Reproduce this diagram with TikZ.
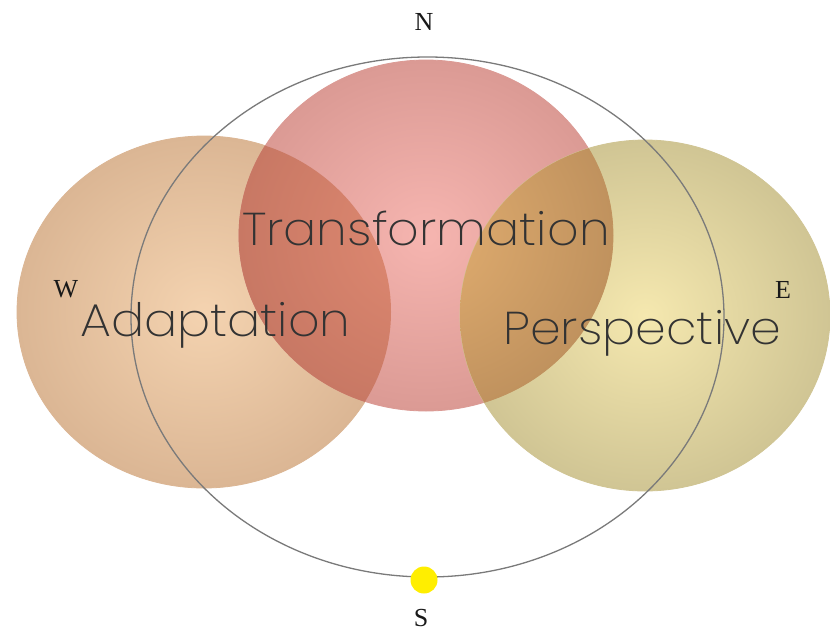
\documentclass[tikz,border=0pt]{standalone}
\usepackage{fontspec}
\setmainfont{Liberation Serif}
\newfontfamily\vennfont{Poppins ExtraLight}
\usetikzlibrary{positioning}
\definecolor{adaptIn}{HTML}{F4D3B0}
\definecolor{adaptOut}{HTML}{DBB694}
\definecolor{transIn}{HTML}{F6B5B0}
\definecolor{transOut}{HTML}{DB9A94}
\definecolor{perspIn}{HTML}{F5E8AF}
\definecolor{perspOut}{HTML}{D0C594}
\definecolor{atIn}{HTML}{E08A72}
\definecolor{atOut}{HTML}{C87864}
\definecolor{tpIn}{HTML}{E2AE70}
\definecolor{tpOut}{HTML}{C0925E}
\definecolor{ringColor}{HTML}{7A7A7A}
\definecolor{sunColor}{HTML}{FFEE00}
\tikzset{
	venn/.style={font=\vennfont\fontsize{46}{46}\selectfont, text=black!80, inner sep=0, xscale=1.07},
	compass/.style={font=\fontsize{26}{26}\selectfont, text=black!90, inner sep=0},
	blob/.style 2 args={inner color=#1, outer color=#2, draw=#2, line width=0.8pt}
}

\begin{document}
\begin{tikzpicture}[x=1pt,y=-1pt]
	\useasboundingbox[fill=white] (0,0) rectangle (830,635);
	
	\coordinate (adapt) at (204,312);
	\coordinate (trans) at (426,235.5);
	\coordinate (persp) at (645,315.5);
	\coordinate (ring) at (427.5,317);
	
	\path[blob={adaptIn}{adaptOut}] (adapt) ellipse [x radius=187pt, y radius=176pt];
	\path[blob={transIn}{transOut}] (trans) ellipse [x radius=187pt, y radius=175.5pt];
	\path[blob={perspIn}{perspOut}] (persp) ellipse [x radius=185pt, y radius=175.5pt];
	
	% overlaps
	\begin{scope}
		\clip (adapt) ellipse [x radius=187pt, y radius=176pt];
		\path[blob={atIn}{atOut}] (trans) ellipse [x radius=187pt, y radius=175.5pt];
	\end{scope}
	\begin{scope}
		\clip (persp) ellipse [x radius=185pt, y radius=175.5pt];
		\path[blob={tpIn}{tpOut}] (trans) ellipse [x radius=187pt, y radius=175.5pt];
	\end{scope}
	
	\draw[ringColor, line width=1.3pt] (ring) ellipse [x radius=296.5pt, y radius=260pt];
	\node[circle, fill=sunColor, minimum size=27pt, inner sep=0] (sun) at (424,580) {};
	
	\node[compass] (north) at (424,22) {N};
	\node[compass] (south) at (421,618) {S};
	\node[compass] (west) at (66,289) {W};
	\node[compass] (east) at (783,290) {E};
	
	\node[venn, anchor=base west] (transLabel) at (242,245) {Transformation};
	\node[venn, anchor=base west] (adaptLabel) at (80,336) {Adaptation};
	\node[venn, anchor=base west] (perspLabel) at (503,344) {Perspective};
\end{tikzpicture}
\end{document}
